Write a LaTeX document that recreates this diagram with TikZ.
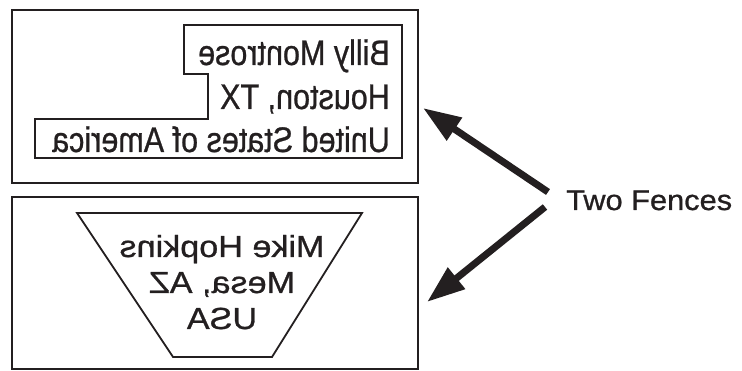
\documentclass[tikz,border=0pt]{standalone}
\usepackage{fontspec}
\setmainfont{Liberation Sans}
\newfontfamily\inkfont[FakeBold=0.8]{Liberation Sans}
\usetikzlibrary{arrows.meta}
\definecolor{ink}{RGB}{35,31,32}
\begin{document}
\begin{tikzpicture}[x=1pt,y=-1pt,
  outerbox/.style={draw=ink,line width=2.6pt},
  innershape/.style={draw=ink,line width=2pt,line join=miter},
  trapshape/.style={draw=ink,line width=1.8pt,line join=miter},
  mirtop/.style={inner sep=0pt,text=ink,font=\inkfont\fontsize{35.5}{35.5}\selectfont,xscale=-0.86,anchor=base west},
  mirbot/.style={inner sep=0pt,text=ink,font=\inkfont\fontsize{30.5}{30.5}\selectfont,xscale=-1.12,anchor=base},
  fatarrow/.style={draw=ink,line width=7pt,-{Triangle[length=38pt,width=26pt]}}]
\useasboundingbox (0,0) rectangle (742,371);
% outer boxes
\draw[outerbox] (12,10) rectangle (418,183);
\draw[outerbox] (12,197) rectangle (418,369);
% stepped shape
\draw[innershape] (184,25) -- (402,25) -- (402,158) -- (35,158) -- (35,119) -- (208,119) -- (208,74) -- (184,74) -- cycle;
% trapezoid
\draw[trapshape] (77,213) -- (362,213) -- (272,357) -- (173,357) -- cycle;
% mirrored texts
\node[mirtop] (t1) at (390,65) {Billy Montrose};
\node[mirtop] (t2) at (390,109) {Houston, TX};
\node[mirtop] (t3) at (390,152) {United States of America};
\node[mirbot] (b1) at (222,257) {Mike Hopkins};
\node[mirbot] (b2) at (222,293) {Mesa, AZ};
\node[mirbot] (b3) at (222,329) {USA};
% label and arrows
\node[inner sep=0pt,text=ink,font=\inkfont\fontsize{28.5}{28.5}\selectfont,xscale=1.08,anchor=base west] (lab) at (566,210) {Two Fences};
\coordinate (s1) at (548,192);
\coordinate (e1) at (423,108);
\coordinate (s2) at (545,207);
\coordinate (e2) at (427,302);
\draw[fatarrow] (s1) -- (e1);
\draw[fatarrow] (s2) -- (e2);
\end{tikzpicture}
\end{document}
